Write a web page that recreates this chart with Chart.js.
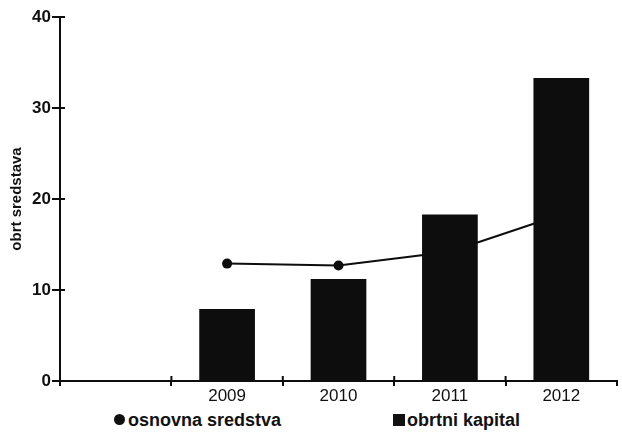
<!DOCTYPE html>
<html>
<head>
<meta charset="utf-8">
<script src="https://cdn.jsdelivr.net/npm/chart.js@4.4.1/dist/chart.umd.min.js"></script>
<style>
  html, body { margin: 0; padding: 0; background: #fff; }
  #wrap { position: relative; width: 622px; height: 432px; font-family: "Liberation Sans", Arial, sans-serif; overflow: hidden; }
  #chart { display: block; }
  #legend { position: absolute; left: 0; top: 409px; width: 622px; height: 23px; color: #111; font-weight: bold; font-size: 18px; }
  .item { position: absolute; top: 0; white-space: nowrap; line-height: 23px; }
  .mark { display: inline-block; background: #111; vertical-align: middle; margin-top: -3px; }
  .mark.circle { width: 11px; height: 11px; border-radius: 50%; margin-right: 3px; }
  .mark.square { width: 12px; height: 12px; margin-right: 2px; }
</style>
</head>
<body>
<div id="wrap">
  <canvas id="chart" width="622" height="405"></canvas>
  <div id="legend"></div>
</div>
<script>
// Years on the horizontal axis (the first slot stays empty)
const categories = ['', '2009', '2010', '2011', '2012'];
// Fixed assets (line) and working capital (bars)
const osnovnaSredstva = [null, 12.9, 12.7, 14.2, 18.3];
const obrtniKapital = [null, 7.9, 11.2, 18.3, 33.3];
const yTicks = [0, 10, 20, 30, 40];
const seriesNames = ['osnovna sredstva', 'obrtni kapital'];
const axisTitle = 'obrt sredstava';

const ink = '#0d0d0d';

// Short marks on the inner side of both axes, at the tick positions
const innerTicks = {
  id: 'innerTicks',
  afterDraw(chart) {
    const { ctx, chartArea, scales: { x, y } } = chart;
    ctx.save();
    ctx.strokeStyle = ink;
    ctx.lineWidth = 2;
    y.ticks.forEach((t, i) => {
      const py = y.getPixelForTick(i);
      ctx.beginPath();
      ctx.moveTo(chartArea.left, py);
      ctx.lineTo(chartArea.left + 5, py);
      ctx.stroke();
    });
    for (let i = 1; i < categories.length; i++) {
      const px = x.getPixelForValue(i - 0.5);
      ctx.beginPath();
      ctx.moveTo(px, chartArea.bottom);
      ctx.lineTo(px, chartArea.bottom - 5);
      ctx.stroke();
    }
    ctx.restore();
  }
};

const font = 'Liberation Sans, Arial, sans-serif';

new Chart(document.getElementById('chart'), {
  type: 'bar',
  data: {
    labels: categories,
    datasets: [
      {
        type: 'line',
        label: seriesNames[0],
        data: osnovnaSredstva,
        borderColor: ink,
        backgroundColor: ink,
        borderWidth: 2,
        pointRadius: 5,
        pointBackgroundColor: ink,
        pointBorderWidth: 0,
        tension: 0,
        order: 2
      },
      {
        type: 'bar',
        label: seriesNames[1],
        data: obrtniKapital,
        backgroundColor: ink,
        borderWidth: 0,
        categoryPercentage: 0.5,
        barPercentage: 1.0,
        order: 1
      }
    ]
  },
  options: {
    responsive: false,
    animation: false,
    layout: { padding: { top: 17, right: -4, left: 0, bottom: 0 } },
    plugins: {
      legend: { display: false },
      tooltip: { enabled: false }
    },
    scales: {
      x: {
        offset: true,
        grid: { offset: true, drawOnChartArea: false, tickLength: 5, color: ink, lineWidth: 2 },
        border: { color: ink, width: 2 },
        ticks: { color: '#111', font: { family: font, size: 17 }, padding: 0, maxRotation: 0 },
        afterFit(s) { s.height = 24; }
      },
      y: {
        min: 0,
        max: 40,
        afterBuildTicks(s) { s.ticks = yTicks.map(v => ({ value: v })); },
        grid: { drawOnChartArea: false, tickLength: 8, color: ink, lineWidth: 2 },
        border: { color: ink, width: 2 },
        ticks: { color: '#111', font: { family: font, size: 17, weight: 'bold' }, padding: 1 },
        title: {
          display: true,
          text: axisTitle,
          color: '#111',
          font: { family: font, size: 15, weight: 'bold' },
          padding: { top: 8, bottom: 0 }
        },
        afterFit(s) { s.width = 60; }
      }
    }
  },
  plugins: [innerTicks]
});

// Legend below the plot
const legend = document.getElementById('legend');
const legendItems = [
  { name: seriesNames[0], shape: 'circle', left: 114 },
  { name: seriesNames[1], shape: 'square', left: 393 }
];
legendItems.forEach(it => {
  const span = document.createElement('span');
  span.className = 'item';
  span.style.left = it.left + 'px';
  const mark = document.createElement('span');
  mark.className = 'mark ' + it.shape;
  span.appendChild(mark);
  span.appendChild(document.createTextNode(it.name));
  legend.appendChild(span);
});
</script>
</body>
</html>
